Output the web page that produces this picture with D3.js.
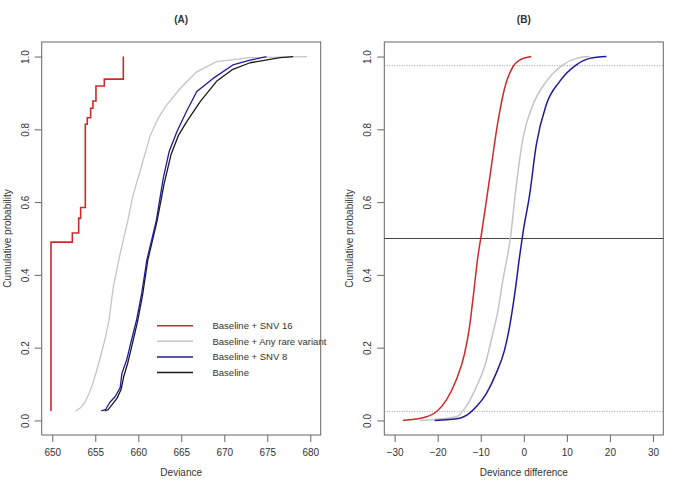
<!DOCTYPE html>
<html><head><meta charset="utf-8">
<script src="https://cdn.jsdelivr.net/npm/d3@7"></script>
<style>body{margin:0;background:#fff}svg{display:block}text{font-family:"Liberation Sans",Arial,sans-serif;fill:#333}</style>
</head><body><div id="c"></div>
<script>
// ---------- Data ----------
const titles = ["(A)", "(B)"];
const xLabels = ["Deviance", "Deviance difference"];
const yLabel = "Cumulative probability";
const ticksA = [650, 655, 660, 665, 670, 675, 680];
const ticksB = [-30, -20, -10, 0, 10, 20, 30];
const ticksY = [0, 0.2, 0.4, 0.6, 0.8, 1.0];
const seriesNames = ["Baseline + SNV 16", "Baseline + Any rare variant", "Baseline + SNV 8", "Baseline"];
const seriesColors = ["#cc2b2b", "#c4c4c4", "#1c1c9c", "#1a1a1a"];

// Panel A: step ECDF of SNV 16 (jump positions, level after jump)
const a16x = [649.85, 649.85, 652.33, 653.07, 653.30, 653.84, 654.07, 654.46, 654.73, 655.08, 656.05, 658.26];
const a16p = [0.026, 0.490, 0.515, 0.556, 0.585, 0.814, 0.832, 0.858, 0.878, 0.919, 0.938, 1.000];
// Panel A: any rare variant
const aAnyX = [652.7, 653.3, 653.8, 654.2, 654.6, 655.2, 655.7, 656.2, 656.6, 657.1, 657.9, 658.8, 659.4, 660.2, 661.4, 662.3, 663.3, 664.9, 665.8, 666.8, 669.1, 673.0, 679.6];
const aAnyP = [0.026, 0.035, 0.05, 0.07, 0.093, 0.14, 0.184, 0.23, 0.276, 0.368, 0.459, 0.551, 0.62, 0.684, 0.784, 0.83, 0.867, 0.913, 0.935, 0.958, 0.986, 0.997, 1.0];
// Panel A: SNV 8
const a8x = [655.7, 656.2, 656.7, 657.3, 657.9, 658.1, 658.65, 659.2, 659.8, 660.4, 661.0, 661.6, 662.1, 662.9, 663.6, 664.5, 665.6, 666.8, 668.7, 671.0, 673.0, 674.9];
const a8p = [0.026, 0.03, 0.05, 0.065, 0.09, 0.13, 0.166, 0.22, 0.276, 0.349, 0.441, 0.50, 0.55, 0.665, 0.74, 0.794, 0.849, 0.904, 0.94, 0.977, 0.99, 1.0];
// Panel A: Baseline
const aBx = [656.1, 656.5, 657.0, 657.5, 658.0, 658.3, 658.8, 659.3, 659.9, 660.5, 661.1, 661.7, 662.2, 663.0, 663.8, 664.7, 665.6, 667.2, 669.1, 671.0, 673.0, 676.5, 678.0];
const aBp = [0.026, 0.03, 0.045, 0.06, 0.085, 0.12, 0.16, 0.21, 0.27, 0.345, 0.44, 0.50, 0.55, 0.65, 0.73, 0.785, 0.82, 0.876, 0.932, 0.965, 0.983, 0.997, 1.0];

// Panel B: deviance differences
const b16x = [-28.1, -25.0, -22.6, -20.3, -18.0, -15.7, -13.75, -12.6, -11.8, -10.66, -9.8, -7.94, -6.01, -4.46, -2.53, -0.98, 1.74];
const b16p = [0, 0.004, 0.01, 0.024, 0.056, 0.111, 0.184, 0.258, 0.335, 0.45, 0.515, 0.665, 0.821, 0.913, 0.972, 0.99, 1.0];
const bAnyX = [-24.2, -15.7, -13.4, -11.0, -9.1, -7.2, -6.2, -4.85, -3.1, -1.74, -0.2, 2.1, 5.2, 9.1, 12.2, 15.3];
const bAnyP = [0, 0.01, 0.038, 0.093, 0.148, 0.239, 0.29, 0.386, 0.503, 0.647, 0.775, 0.867, 0.931, 0.977, 0.995, 1.0];
const b8x = [-20.7, -14.9, -12.6, -11.0, -8.7, -6.4, -4.46, -3.3, -2.14, -0.98, -0.2, 1.35, 2.9, 5.2, 8.3, 12.2, 15.3, 19.2];
const b8p = [0, 0.006, 0.02, 0.038, 0.074, 0.13, 0.194, 0.258, 0.345, 0.45, 0.515, 0.62, 0.757, 0.867, 0.931, 0.977, 0.995, 1.0];
const refSolid = [0.5];
const refDotted = [0.025, 0.975];

// ---------- Drawing ----------
const W = 685, H = 488;
const FONT = '"Liberation Sans",Arial,sans-serif';
const svg = d3.select("#c").append("svg").attr("width", W).attr("height", H);
const y = d3.scaleLinear().domain([-0.04, 1.04]).range([435, 42]);
const panels = [
  {x: d3.scaleLinear().domain([648.77, 681.21]).range([41.7, 320.7]), ticks: ticksA, title: titles[0], xlab: xLabels[0]},
  {x: d3.scaleLinear().domain([-32.4, 32.4]).range([384.3, 663.3]), ticks: ticksB, title: titles[1], xlab: xLabels[1]}
];
const zip = (xs, ps) => xs.map((v, i) => [v, ps[i]]);

panels.forEach((P, i) => {
  const [x0, x1] = P.x.range();
  const g = svg.append("g");
  const ax = g.append("g").attr("transform", `translate(0,435)`)
    .call(d3.axisBottom(P.x).tickValues(P.ticks).tickSize(7).tickPadding(7).tickFormat(d3.format("d")));
  ax.select(".domain").remove();
  ax.selectAll("line").attr("stroke", "#666");
  ax.selectAll("text").attr("font-size", 10).attr("fill", "#555").style("font-family", FONT);
  const ay = g.append("g").attr("transform", `translate(${x0},0)`)
    .call(d3.axisLeft(y).tickValues(ticksY).tickSize(7).tickFormat(d3.format(".1f")));
  ay.select(".domain").remove();
  ay.selectAll("line").attr("stroke", "#666");
  ay.selectAll("text").attr("font-size", 10).attr("fill", "#555").style("font-family", FONT)
    .attr("x", null).attr("dy", null).attr("text-anchor", "middle")
    .attr("transform", `translate(${-13},0) rotate(-90)`);
  g.append("rect").attr("x", x0).attr("y", 42).attr("width", x1 - x0).attr("height", 393)
    .attr("fill", "none").attr("stroke", "#666").attr("stroke-width", 1);
  g.append("text").attr("x", (x0 + x1) / 2).attr("y", 23).attr("text-anchor", "middle")
    .attr("font-size", 10).attr("font-weight", "bold").attr("fill", "#222").text(P.title);
  g.append("text").attr("x", (x0 + x1) / 2).attr("y", 476).attr("text-anchor", "middle")
    .attr("font-size", 10).attr("fill", "#555").text(P.xlab);
  g.append("text").attr("transform", `translate(${x0 - 31},${y(0.5)}) rotate(-90)`).attr("text-anchor", "middle")
    .attr("font-size", 10).attr("fill", "#555").text(yLabel);
});

const PA = panels[0], PB = panels[1];
const lineA = d3.line().x(d => PA.x(d[0])).y(d => y(d[1]));
const stepA = d3.line().x(d => PA.x(d[0])).y(d => y(d[1])).curve(d3.curveStepAfter);
const lineB = d3.line().x(d => PB.x(d[0])).y(d => y(d[1])).curve(d3.curveMonotoneX);

refDotted.forEach(v => svg.append("line").attr("x1", PB.x.range()[0]).attr("x2", PB.x.range()[1])
  .attr("y1", y(v)).attr("y2", y(v)).attr("stroke", "#999").attr("stroke-width", 1).attr("stroke-dasharray", "1,1.5"));
refSolid.forEach(v => svg.append("line").attr("x1", PB.x.range()[0]).attr("x2", PB.x.range()[1])
  .attr("y1", y(v)).attr("y2", y(v)).attr("stroke", "#444").attr("stroke-width", 1));

[[aAnyX, aAnyP, 1], [aBx, aBp, 3], [a8x, a8p, 2]].forEach(([xs, ps, c]) =>
  svg.append("path").datum(zip(xs, ps)).attr("d", lineA).attr("fill", "none")
    .attr("stroke", seriesColors[c]).attr("stroke-width", 1.3).attr("stroke-linejoin", "round"));
svg.append("path").datum(zip(a16x, a16p)).attr("d", stepA)
  .attr("fill", "none").attr("stroke", seriesColors[0]).attr("stroke-width", 1.6);

[[bAnyX, bAnyP, 1], [b8x, b8p, 2], [b16x, b16p, 0]].forEach(([xs, ps, c]) =>
  svg.append("path").datum(zip(xs, ps)).attr("d", lineB).attr("fill", "none")
    .attr("stroke", seriesColors[c]).attr("stroke-width", 1.5));

const lg = svg.append("g");
seriesNames.forEach((n, i) => {
  const yy = 325.7 + i * 15.6;
  lg.append("line").attr("x1", 157).attr("x2", 193).attr("y1", yy).attr("y2", yy)
    .attr("stroke", seriesColors[i]).attr("stroke-width", 1.5);
  lg.append("text").attr("x", 212.5).attr("y", yy + 3.5).attr("font-size", 9.5).attr("fill", "#555").text(n);
});
</script></body></html>
